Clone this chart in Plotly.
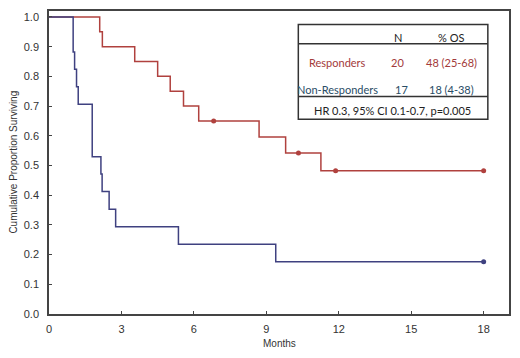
import plotly.graph_objects as go

# Data
resp_times = [0, 2.1, 2.21, 3.55, 4.5, 5.02, 5.57, 6.2, 8.7, 9.8, 11.26, 18]
resp_surv = [1.0, 0.95, 0.90, 0.85, 0.80, 0.75, 0.70, 0.65, 0.596, 0.542, 0.482, 0.482]
resp_cens_t = [6.82, 10.33, 11.87, 18]
resp_cens_s = [0.65, 0.542, 0.482, 0.482]

nonresp_times = [0, 1.0, 1.06, 1.14, 1.21, 1.79, 2.15, 2.2, 2.49, 2.76, 5.36, 9.39, 18]
nonresp_surv = [1.0, 0.882, 0.824, 0.765, 0.706, 0.529, 0.471, 0.412, 0.353, 0.294, 0.235, 0.176, 0.176]
nonresp_cens_t = [18]
nonresp_cens_s = [0.176]

x_ticks = [0, 3, 6, 9, 12, 15, 18]
y_ticks = [0.0, 0.1, 0.2, 0.3, 0.4, 0.5, 0.6, 0.7, 0.8, 0.9, 1.0]

RED = "#b0413e"
BLUE = "#3f4180"
RED_TXT = "#a33a3a"
BLUE_TXT = "#2a4d66"

fig = go.Figure()
fig.add_trace(go.Scatter(x=resp_times, y=resp_surv, mode="lines", line=dict(color=RED, width=1.5, shape="hv"), showlegend=False))
fig.add_trace(go.Scatter(x=nonresp_times, y=nonresp_surv, mode="lines", line=dict(color=BLUE, width=1.5, shape="hv"), showlegend=False))
fig.add_trace(go.Scatter(x=resp_cens_t, y=resp_cens_s, mode="markers", marker=dict(color=RED, size=5, symbol="circle"), showlegend=False))
fig.add_trace(go.Scatter(x=nonresp_cens_t, y=nonresp_cens_s, mode="markers", marker=dict(color=BLUE, size=5, symbol="circle"), showlegend=False))

axis_common = dict(showline=True, linecolor="#444", linewidth=1.5, mirror=True, ticks="inside", ticklen=3,
                   tickcolor="#444", showgrid=False, zeroline=False,
                   tickfont=dict(family="Liberation Sans, Arial", size=11, color="#333"))
fig.update_xaxes(range=[0, 19.05], tickvals=x_ticks, ticktext=[str(v) for v in x_ticks],
                 ticklabelstandoff=4, **axis_common)
fig.update_yaxes(range=[0, 1.02], tickvals=y_ticks, ticktext=[f"{v:.1f}" for v in y_ticks],
                 ticklabelstandoff=6, **axis_common)

# Table box
line = dict(color="#333", width=1.5)
fig.add_shape(type="rect", xref="paper", yref="paper", x0=0.542, x1=0.954, y0=0.6425, y1=0.9555, line=line, fillcolor="white")
fig.add_shape(type="line", xref="paper", yref="paper", x0=0.542, x1=0.954, y0=0.892, y1=0.892, line=line)
fig.add_shape(type="line", xref="paper", yref="paper", x0=0.542, x1=0.954, y0=0.718, y1=0.718, line=line)

tf = "Lato, Open Sans, sans-serif"
def ann(x, y, text, color="#222", size=11):
    fig.add_annotation(xref="paper", yref="paper", x=x, y=y, text=text, showarrow=False,
                       font=dict(family=tf, size=size, color=color), xanchor="center", yanchor="middle")

ann(0.759, 0.9136, "N")
ann(0.8735, 0.9136, "% OS")
ann(0.628, 0.831, "Responders", RED_TXT)
ann(0.758, 0.831, "20", RED_TXT)
ann(0.874, 0.831, "48 (25-68)", RED_TXT)
ann(0.628, 0.740, "Non-Responders", BLUE_TXT)
ann(0.766, 0.740, "17", BLUE_TXT)
ann(0.874, 0.740, "18 (4-38)", BLUE_TXT)
ann(0.747, 0.672, "HR 0.3, 95% CI 0.1-0.7, p=0.005")

# Axis titles
fig.add_annotation(xref="paper", yref="paper", x=-0.078, y=0.5, text="Cumulative Proportion Surviving",
                   textangle=-90, showarrow=False, xanchor="center", yanchor="middle",
                   font=dict(family="Liberation Sans, Arial", size=10, color="#333"))
fig.add_annotation(xref="paper", yref="paper", x=0.5, y=-0.0988, text="Months",
                   showarrow=False, xanchor="center", yanchor="middle",
                   font=dict(family="Liberation Sans, Arial", size=10, color="#333"))

# The page body adds an 8px offset, so the figure is sized to fit inside the window
fig.update_layout(width=504, height=342, margin=dict(l=41, r=1.3, t=2.5, b=36),
                  plot_bgcolor="white", paper_bgcolor="white")

fig.write_html("out.html")
